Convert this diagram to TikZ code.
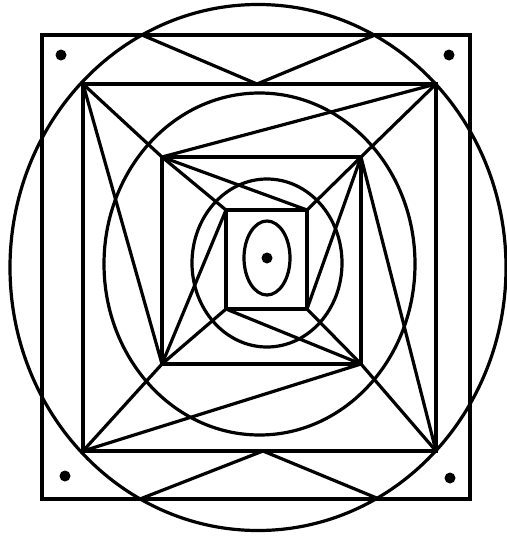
\documentclass[tikz,border=0pt]{standalone}
\begin{document}
\begin{tikzpicture}[x=1pt,y=-1pt,line width=3.2pt,line join=miter,
  ln/.style={draw=black},
  dotmark/.style={fill=black}]
\useasboundingbox (0,0) rectangle (506,538);
% squares corners
\coordinate (oTL) at (42,35);   \coordinate (oBR) at (470,499);
\coordinate (sTL) at (83,84);   \coordinate (sTR) at (436,84);
\coordinate (sBR) at (436,451); \coordinate (sBL) at (83,451);
\coordinate (tTL) at (162,157); \coordinate (tTR) at (361,157);
\coordinate (tBR) at (361,364); \coordinate (tBL) at (162,364);
\coordinate (iTL) at (226,210); \coordinate (iTR) at (307,210);
\coordinate (iBR) at (307,309); \coordinate (iBL) at (226,309);
% V points
\coordinate (vA) at (142,35); \coordinate (vB) at (257,84); \coordinate (vC) at (375,35);
\coordinate (wA) at (140,499); \coordinate (wB) at (263,451); \coordinate (wC) at (379,499);
% rectangles
\draw[ln] (oTL) rectangle (oBR);
\draw[ln] (sTL) -- (sTR) -- (sBR) -- (sBL) -- cycle;
\draw[ln] (tTL) -- (tTR) -- (tBR) -- (tBL) -- cycle;
\draw[ln] (iTL) -- (iTR) -- (iBR) -- (iBL) -- cycle;
% circles
\draw[ln] (258,267.5) ellipse [x radius=248, y radius=263];
\draw[ln] (259.5,264) ellipse [x radius=155.5, y radius=171];
\draw[ln] (267,263) ellipse [x radius=75, y radius=84];
\draw[ln] (267,258) ellipse [x radius=23, y radius=37];
% V shapes
\draw[ln] (vA) -- (vB) -- (vC);
\draw[ln] (wA) -- (wB) -- (wC);
% outer pinwheel and diagonals
\draw[ln] (tTL) -- (sTR);
\draw[ln] (tTR) -- (sBR);
\draw[ln] (tBR) -- (sBL);
\draw[ln] (tBL) -- (sTL);
\draw[ln] (sTL) -- (tTL);
\draw[ln] (sTR) -- (tTR);
\draw[ln] (sBR) -- (tBR);
\draw[ln] (sBL) -- (tBL);
% inner pinwheel and diagonals
\draw[ln] (tTL) -- (iTR);
\draw[ln] (tTR) -- (iBR);
\draw[ln] (tBR) -- (iBL);
\draw[ln] (tBL) -- (iTL);
\draw[ln] (tTL) -- (iTL);
\draw[ln] (tTR) -- (iTR);
\draw[ln] (tBR) -- (iBR);
\draw[ln] (tBL) -- (iBL);
% dots
\fill[dotmark] (61,55) circle (5.5);
\fill[dotmark] (449,55) circle (5.5);
\fill[dotmark] (65,476) circle (5.5);
\fill[dotmark] (450,478) circle (5.5);
\fill[dotmark] (267,258) circle (5.5);
\end{tikzpicture}
\end{document}
